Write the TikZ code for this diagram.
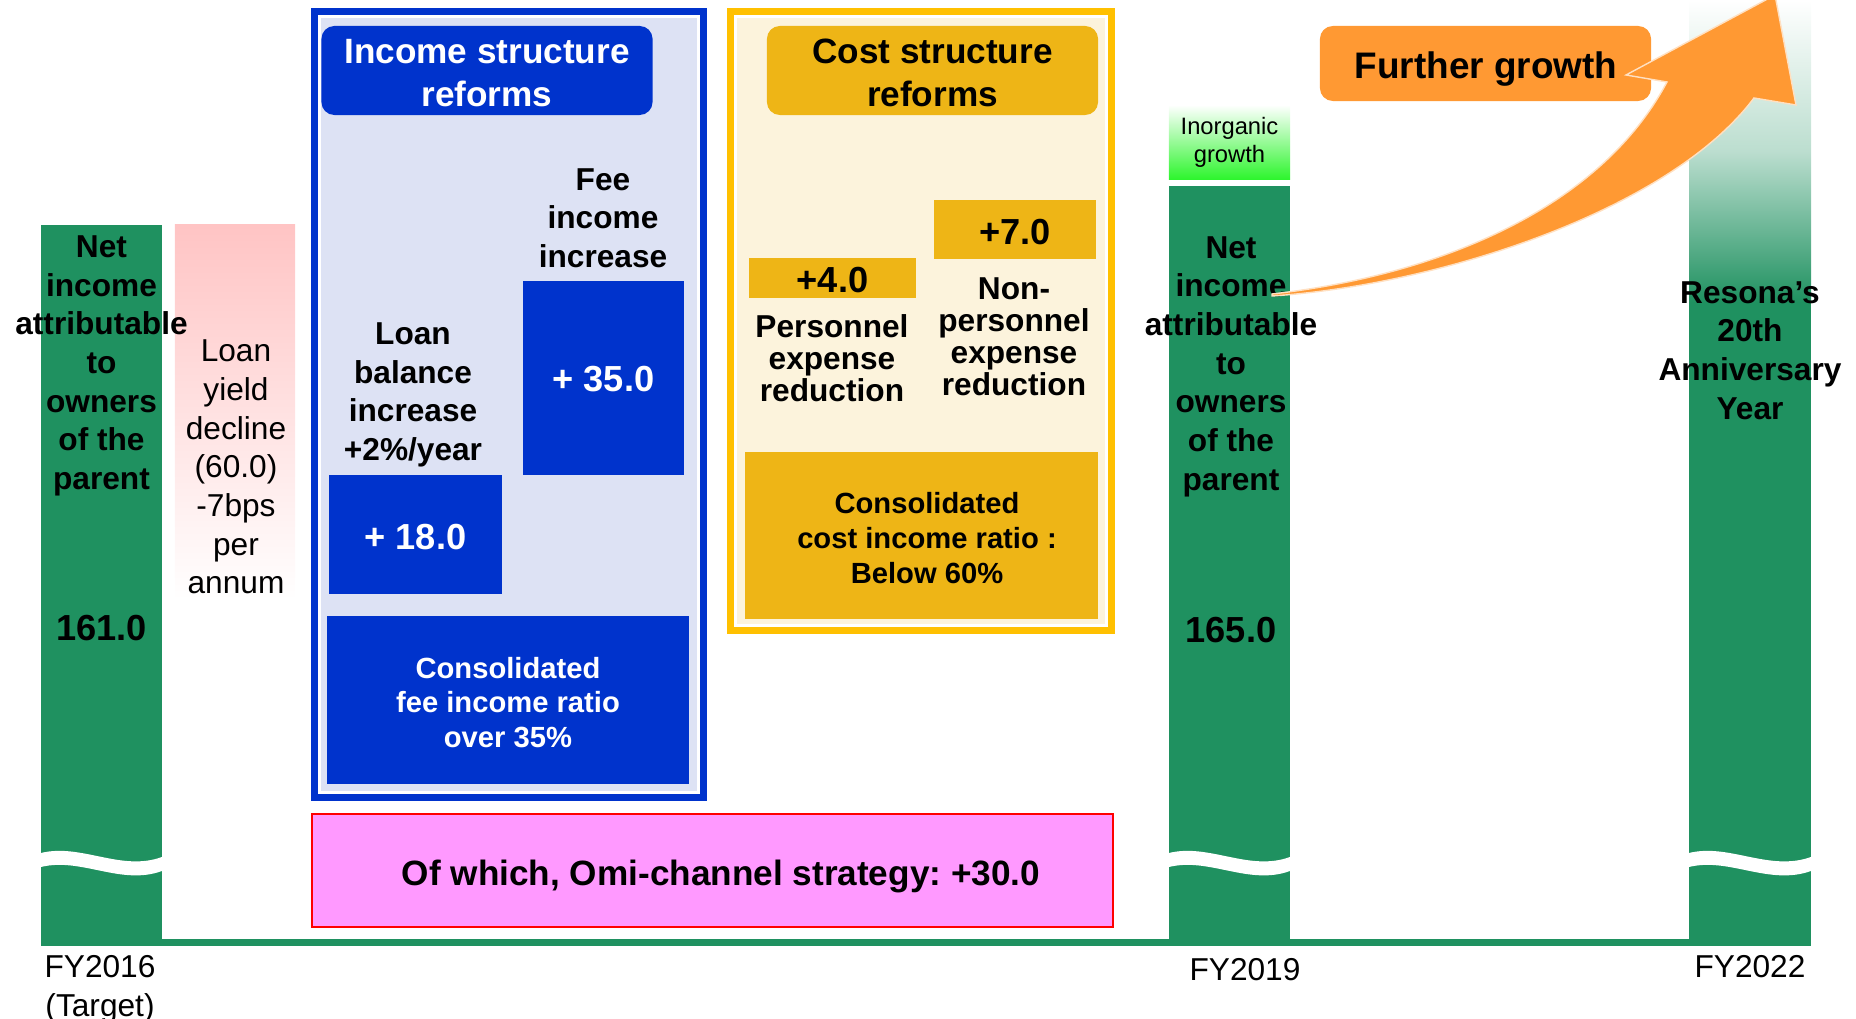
\documentclass[tikz,border=0pt]{standalone}
\usepackage{fontspec}
\setmainfont{Liberation Sans}
\usepackage{xcolor}
\usepackage{tikz}
\usetikzlibrary{positioning}
\frenchspacing

\definecolor{barGreen}{HTML}{1F9160}
\definecolor{reformBlue}{HTML}{0033CC}
\definecolor{blueBack}{HTML}{DDE2F4}
\definecolor{frameYellow}{HTML}{FFC000}
\definecolor{yellowBack}{HTML}{FCF3DC}
\definecolor{costGold}{HTML}{EEB516}
\definecolor{growthOrange}{HTML}{FF9933}
\definecolor{omniPink}{HTML}{FF99FF}
\definecolor{yieldPink}{HTML}{FFC4C4}
\definecolor{inorgGreen}{HTML}{2EF52E}

% white wavy cut across a bar, from x=#1 to x=#2
\newcommand{\barbreak}[2]{%
  \fill[white] (#1,853) .. controls ({#1+40},843) and ({#1+80},872) .. (#2,857)
    -- (#2,871) .. controls ({#1+80},886) and ({#1+40},857) .. (#1,867) -- cycle;}

\begin{document}
\begin{tikzpicture}[x=0.01cm,y=-0.01cm]
% Define styles
\tikzstyle{bar} = [rectangle, fill=barGreen, inner sep=0pt, minimum width=1.21cm]
\tikzstyle{label} = [align=center, inner sep=0pt, font=\fontsize{9}{11}\selectfont\bfseries]
\tikzstyle{plain} = [align=center, inner sep=0pt, font=\fontsize{9}{11}\selectfont]
\tikzstyle{amount} = [inner sep=0pt, font=\fontsize{10.3}{12}\selectfont\bfseries]
\tikzstyle{title} = [rectangle, rounded corners=0.13cm, align=center, inner sep=0pt,
  minimum width=3.31cm, minimum height=0.89cm, font=\fontsize{10}{12}\selectfont\bfseries]
\tikzstyle{bluebox} = [rectangle, fill=reformBlue, text=white, align=center, inner sep=0pt]
\tikzstyle{goldbox} = [rectangle, fill=costGold, align=center, inner sep=0pt]
\tikzstyle{ratio} = [align=center, inner sep=0pt, font=\fontsize{8.3}{9.9}\selectfont\bfseries]

\useasboundingbox (0,0) rectangle (1856,1019);

% Bars and base line
\fill[barGreen] (41,939) rectangle (1811,946);
\node[bar, minimum height=7.18cm] (bar16) at (101.5,584) {};
\node[bar, minimum height=7.57cm] (bar19) at (1229.5,564.5) {};
\node[bar, minimum width=1.22cm, minimum height=6.43cm] (bar22) at (1750,621.5) {};
\shade[top color=white, bottom color=barGreen, middle color=barGreen!30] (1689,0) rectangle (1811,302);
\barbreak{41}{162}
\barbreak{1169}{1290}
\barbreak{1689}{1811}

\node[inner sep=0pt, top color=yieldPink, bottom color=white, minimum width=1.2cm,
  minimum height=3.75cm] (yieldbar) at (235,412.5) {};
\node[inner sep=0pt, top color=white, bottom color=inorgGreen, minimum width=1.21cm,
  minimum height=0.74cm, align=center, font=\fontsize{6.75}{8}\selectfont] (inorg) at (1229.5,142) {Inorganic\\growth};

% Reform frames
\draw[reformBlue, line width=2pt, fill=blueBack] (314.5,11.5) rectangle (703.5,797.5);
\draw[white, line width=0.6pt] (319.5,16.5) rectangle (698.5,792.5);
\draw[frameYellow, line width=2pt, fill=yellowBack] (730.5,11.5) rectangle (1111.5,630.5);
\draw[white, line width=0.6pt] (735.5,16.5) rectangle (1106.5,625.5);

% Define nodes
\node[label] (net16) at (101.5,366) {Net\\income\\attributable\\to\\owners\\of the\\parent};
\node[amount] (val16) at (101.5,628) {161.0};
\node[plain] (fy16) at (100,989) {FY2016\\(Target)};
\node[plain] (yield) at (236,467) {Loan\\yield\\decline\\(60.0)\\-7bps\\per\\annum};

\node[title, fill=reformBlue, text=white] (income) at (487,70.5) {};
\node[label, text=white, font=\fontsize{10}{12}\selectfont\bfseries] (income_txt) at (487,73) {Income structure\\reforms};
\node[label] (fee) at (603,218) {Fee\\income\\increase};
\node[bluebox, amount, minimum width=1.61cm, minimum height=1.94cm] (fee_val) at (603.5,378) {};
\node[amount, text=white] (fee_num) at (603.5,379) {+ 35.0};
\node[label] (loan) at (413,395) {Loan\\balance\\increase\\+2\%/year};
\node[bluebox, minimum width=1.73cm, minimum height=1.19cm] (loan_val) at (415.5,534.5) {};
\node[amount, text=white] (loan_num) at (415.5,537) {+ 18.0};
\node[bluebox, minimum width=3.62cm, minimum height=1.68cm] (fee_ratio) at (508,700) {};
\node[ratio, text=white] (fee_ratio_txt) at (508,702.5) {Consolidated\\fee income ratio\\over 35\%};

\node[title, fill=costGold] (cost) at (932.5,70.5) {};
\node[label, font=\fontsize{10}{12}\selectfont\bfseries] (cost_txt) at (932.5,73) {Cost structure\\reforms};
\node[goldbox, minimum width=1.62cm, minimum height=0.59cm] (nonpers_val) at (1015,229.5) {};
\node[amount] (nonpers_num) at (1015,232) {+7.0};
\node[goldbox, minimum width=1.67cm, minimum height=0.40cm] (pers_val) at (832.5,278) {};
\node[amount] (pers_num) at (832.5,280.5) {+4.0};
\node[label, font=\fontsize{9}{9.1}\selectfont\bfseries] (pers) at (832,358.5) {Personnel\\expense\\reduction};
\node[label, font=\fontsize{9}{9.1}\selectfont\bfseries] (nonpers) at (1014,337) {Non-\\personnel\\expense\\reduction};
\node[goldbox, minimum width=3.53cm, minimum height=1.67cm] (cost_ratio) at (921.5,535.5) {};
\node[ratio, font=\fontsize{8.3}{10}\selectfont\bfseries] (cost_ratio_txt) at (927,538) {Consolidated\\cost income ratio :\\Below 60\%};

\node[rectangle, draw=red, line width=0.5pt, fill=omniPink, minimum width=8.01cm,
  minimum height=1.13cm] (omni) at (712.5,870.5) {};
\node[inner sep=0pt, font=\fontsize{10}{12}\selectfont\bfseries] (omni_txt) at (721,876) {Of which, Omi-channel strategy: +30.0};

\node[label] (net19) at (1231,366.5) {Net\\income\\attributable\\to\\owners\\of the\\parent};
\node[amount] (val19) at (1231,630) {165.0};
\node[plain] (fy19) at (1245,970) {FY2019};

\node[label] (resona) at (1750,350.5) {Resona's\\20th\\Anniversary\\Year};
\node[plain] (fy22) at (1750,966.5) {FY2022};

\node[title, fill=growthOrange, minimum height=0.75cm] (growth) at (1485.5,63.5) {};
\node[inner sep=0pt, font=\fontsize{10.5}{12}\selectfont\bfseries] (growth_txt) at (1486,69) {Further growth};

% Growth arrow
\coordinate (tail) at (1272,294);
\fill[growthOrange, draw=white!70!growthOrange, line width=0.4pt]
  (tail) .. controls (1440,275) and (1600,208) .. (1667,82) -- (1626,75) -- (1775,-5)
  -- (1796,105) -- (1754,98) .. controls (1670,210) and (1440,285) .. (1272,296) -- cycle;
\end{tikzpicture}
\end{document}
